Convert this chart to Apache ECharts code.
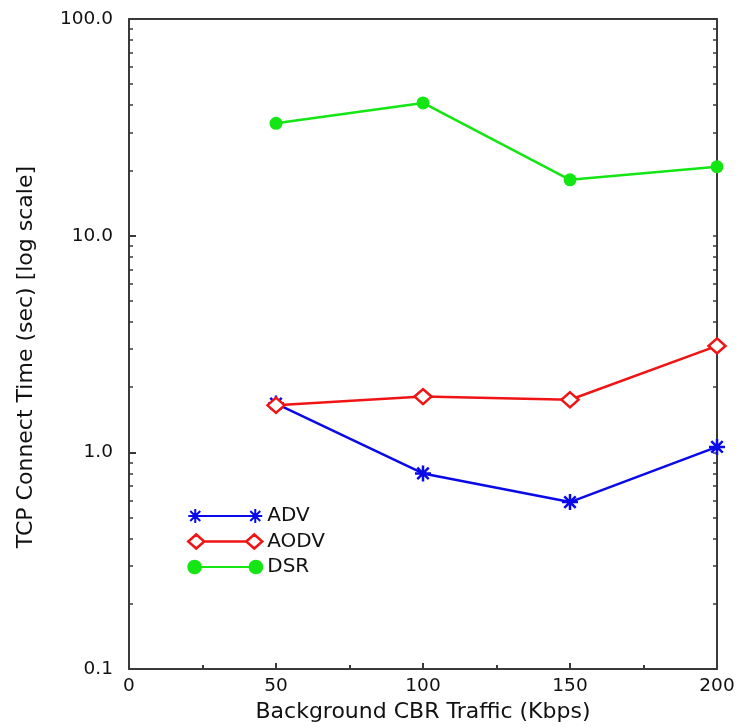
<!DOCTYPE html>
<html>
<head>
<meta charset="utf-8">
<script src="https://cdn.jsdelivr.net/npm/echarts@6/dist/echarts.min.js"></script>
<style>
  html, body { margin: 0; padding: 0; background: #fff; }
  #chart { width: 743px; height: 728px; }
</style>
</head>
<body>
<div id="chart"></div>
<script>
// data
const traffic = [50, 100, 150, 200];
const advTime = [1.68, 0.80, 0.59, 1.06];
const aodvTime = [1.65, 1.81, 1.75, 3.1];
const dsrTime = [33.0, 41.0, 18.1, 20.8];
const yLabels = [0.1, 1, 10, 100];
const yMinor = [];
[0.1, 1, 10].forEach(d => {
    for (let k = 2; k <= 9; k++) yMinor.push(+(d * k).toFixed(2));
});

const font = 'DejaVu Sans';
const axisCol = '#3a3a3a';
const blue = '#0a0ae8', red = '#f01414', green = '#14e614';

// asterisk marker, and legend icons with a marker at both ends
const starPath = 'path://M0,7L14,7M7,0L7,14M2,2L12,12M12,2L2,12';
const advIcon = 'path://M0,7L14,7M7,0L7,14M2,2L12,12M12,2L2,12M60,7L74,7M67,0L67,14M62,2L72,12M72,2L62,12M7,7L67,7';
const aodvIcon = 'path://M0,7L8,0L16,7L8,14ZM58,7L66,0L74,7L66,14ZM16,7L58,7';
const dsrIcon = 'path://M2,7A6,6 0 1,0 14,7A6,6 0 1,0 2,7ZM60,7A6,6 0 1,0 72,7A6,6 0 1,0 60,7ZM14,7L60,7';

function pairs(vals) {
    return traffic.map((x, i) => [x, vals[i]]);
}

var myChart = echarts.init(document.getElementById('chart'));
myChart.setOption({
    animation: false,
    textStyle: { fontFamily: font },
    grid: { left: 129, right: 26, top: 19, bottom: 58 },
    legend: {
        orient: 'vertical',
        left: 182,
        top: 501,
        itemWidth: 74,
        itemHeight: 14,
        itemGap: 5.5,
        textStyle: { fontSize: 20, color: '#111', fontFamily: font },
        data: [
            { name: 'ADV', icon: advIcon, itemStyle: { color: blue, borderColor: blue, borderWidth: 2 } },
            { name: 'AODV', icon: aodvIcon, itemStyle: { color: '#fff', borderColor: red, borderWidth: 2.5 } },
            { name: 'DSR', icon: dsrIcon, itemStyle: { color: green, borderColor: green, borderWidth: 2 } }
        ]
    },
    xAxis: [{
        type: 'value',
        min: 0, max: 200, interval: 50,
        name: 'Background CBR Traffic (Kbps)',
        nameLocation: 'middle',
        nameGap: 28,
        nameTextStyle: { fontSize: 22, color: '#111' },
        axisLine: { lineStyle: { color: axisCol, width: 2 } },
        axisTick: { inside: true, length: 6, lineStyle: { color: axisCol, width: 2 } },
        minorTick: { show: true, splitNumber: 2, length: 4, lineStyle: { color: axisCol, width: 2 } },
        axisLabel: { fontSize: 18.5, color: '#111', margin: 8 },
        splitLine: { show: false }
    }, {
        type: 'value',
        position: 'top',
        min: 0, max: 200,
        axisLine: { show: true, lineStyle: { color: axisCol, width: 2 } },
        axisTick: { show: false },
        axisLabel: { show: false },
        splitLine: { show: false }
    }],
    yAxis: [{
        type: 'log',
        logBase: 10,
        min: 0.1, max: 100,
        name: 'TCP Connect Time (sec) [log scale]',
        nameLocation: 'middle',
        nameGap: 92,
        nameTextStyle: { fontSize: 22, color: '#111', padding: [0, 26, 0, 0] },
        axisLine: { show: true, lineStyle: { color: axisCol, width: 2 } },
        axisTick: { inside: true, length: 7, customValues: yLabels, lineStyle: { color: axisCol, width: 2 } },
        axisLabel: {
            fontSize: 18.5, color: '#111', margin: 16,
            customValues: yLabels,
            formatter: v => Number(v).toFixed(1)
        },
        splitLine: { show: false }
    }, {
        type: 'log',
        logBase: 10,
        min: 0.1, max: 100,
        position: 'left',
        axisLine: { show: false },
        axisTick: { inside: true, length: 4, customValues: yMinor, lineStyle: { color: axisCol, width: 1.5 } },
        axisLabel: { show: false },
        splitLine: { show: false }
    }, {
        type: 'log',
        logBase: 10,
        min: 0.1, max: 100,
        position: 'right',
        axisLine: { show: true, lineStyle: { color: axisCol, width: 2 } },
        axisTick: { inside: true, length: 4, customValues: yLabels.concat(yMinor), lineStyle: { color: axisCol, width: 1.5 } },
        axisLabel: { show: false },
        splitLine: { show: false }
    }],
    series: [{
        name: 'ADV',
        type: 'line',
        data: pairs(advTime),
        symbol: starPath,
        symbolSize: 16,
        itemStyle: { color: blue, borderColor: blue, borderWidth: 2.5 },
        lineStyle: { color: blue, width: 2.5 }
    }, {
        name: 'AODV',
        type: 'line',
        data: pairs(aodvTime),
        symbol: 'diamond',
        symbolSize: [17, 15],
        itemStyle: { color: '#fff', borderColor: red, borderWidth: 2.5 },
        lineStyle: { color: red, width: 2.5 }
    }, {
        name: 'DSR',
        type: 'line',
        data: pairs(dsrTime),
        symbol: 'circle',
        symbolSize: 13,
        itemStyle: { color: green },
        lineStyle: { color: green, width: 2.5 }
    }]
});
</script>
</body>
</html>
